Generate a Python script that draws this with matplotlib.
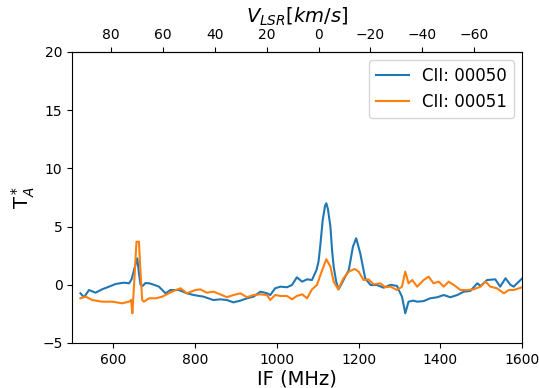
import matplotlib
matplotlib.use('Agg')
import matplotlib.pyplot as plt
import numpy as np

# spectra (IF in MHz, T_A* in K)
if_50 = [520, 529, 541, 557, 573, 590, 606, 626, 639, 645, 652, 659, 663, 667, 672, 679, 688,
         700, 712, 728, 740, 761, 780, 797, 821, 845, 862, 878, 894, 911, 927, 943, 960, 976,
         984, 996, 1009, 1025, 1037, 1049, 1062, 1074, 1086, 1097, 1102, 1106, 1112, 1118, 1121,
         1125, 1131, 1135, 1139, 1145, 1151, 1157, 1163, 1176, 1186, 1194, 1204, 1216, 1229,
         1245, 1261, 1278, 1294, 1298, 1306, 1314, 1322, 1334, 1343, 1359, 1375, 1392, 1408,
         1424, 1441, 1457, 1473, 1490, 1498, 1514, 1534, 1546, 1559, 1571, 1579, 1600]
t_50 = [-0.73, -1.07, -0.45, -0.68, -0.39, -0.16, 0.07, 0.18, 0.13, 0.47, 1.4, 2.28, 1.0, 0.0,
        -0.1, 0.15, 0.13, 0.0, -0.16, -0.73, -0.45, -0.45, -0.73, -0.88, -1.02, -1.31, -1.25,
        -1.31, -1.51, -1.36, -1.16, -1.02, -0.59, -0.73, -0.88, -0.3, -0.16, -0.21, -0.02, 0.64,
        0.27, 0.47, 0.41, 1.27, 2.0, 3.27, 5.5, 6.8, 7.0, 6.5, 5.0, 3.0, 1.56, 0.3, -0.39, 0.0,
        0.41, 1.27, 3.27, 4.0, 2.7, 0.56, -0.02, -0.02, -0.25, 0.0, -0.1, -0.45, -1.02, -2.45,
        -1.45, -1.36, -1.45, -1.4, -1.16, -1.07, -0.88, -1.07, -0.88, -0.59, -0.53, 0.13, -0.1,
        0.41, 0.47, -0.16, 0.56, 0.0, -0.16, 0.56]

if_51 = [520, 533, 549, 573, 598, 622, 639, 644, 647, 652, 657, 663, 667, 671, 675, 688, 704,
         720, 736, 753, 765, 780, 801, 813, 829, 845, 862, 878, 894, 911, 927, 943, 960, 976,
         984, 996, 1009, 1025, 1037, 1049, 1062, 1074, 1086, 1098, 1111, 1121, 1131, 1139, 1150,
         1163, 1176, 1190, 1200, 1212, 1224, 1237, 1253, 1265, 1278, 1294, 1306, 1314, 1322,
         1331, 1343, 1359, 1371, 1383, 1396, 1408, 1420, 1432, 1449, 1465, 1481, 1498, 1510,
         1522, 1538, 1555, 1567, 1579, 1600]
t_51 = [-1.16, -1.02, -1.31, -1.45, -1.45, -1.59, -1.45, -1.3, -2.45, 0.5, 3.7, 3.7, 1.0, -1.3,
        -1.45, -1.16, -1.16, -1.02, -0.73, -0.45, -0.3, -0.73, -0.45, -0.39, -0.68, -0.59,
        -0.82, -1.07, -0.88, -0.73, -1.07, -0.88, -0.82, -0.88, -1.31, -0.88, -0.96, -0.96,
        -1.25, -0.96, -0.82, -1.16, -0.39, -0.02, 1.27, 2.2, 1.56, 0.27, -0.39, 0.56, 1.13, 1.36,
        1.13, 0.41, 0.47, 0.04, 0.13, -0.21, -0.16, -0.45, -0.16, 1.13, 0.13, 0.41, -0.16, 0.41,
        0.7, 0.13, 0.27, -0.16, 0.27, 0.0, -0.45, -0.45, -0.39, -0.16, 0.27, -0.16, -0.3, -0.73,
        -0.45, -0.45, -0.21]

labels = ['CII: 00050', 'CII: 00051']
vel_ticks = [80, 60, 40, 20, 0, -20, -40, -60]

# IF <-> V_LSR
IF0 = 1102.0
MHZ_PER_KMS = 6.34


def if2v(f):
    return (IF0 - np.asarray(f, dtype=float)) / MHZ_PER_KMS


def v2if(v):
    return IF0 - np.asarray(v, dtype=float) * MHZ_PER_KMS


fig = plt.figure(figsize=(5.39, 3.88), dpi=100)
ax = fig.add_axes([0.134, 0.116, 0.835, 0.75])

ax.plot(if_50, t_50, color='#1f77b4', lw=1.5, label=labels[0])
ax.plot(if_51, t_51, color='#ff7f0e', lw=1.5, label=labels[1])

ax.set_xlim(500, 1600)
ax.set_ylim(-5, 20)
ax.set_yticks([-5, 0, 5, 10, 15, 20])
ax.set_xlabel('IF (MHz)', fontsize=14, labelpad=2)
ax.set_ylabel('T$_A^*$', fontsize=14)
ax.legend(loc='upper right', fontsize=12)

top = ax.secondary_xaxis('top', functions=(if2v, v2if))
top.set_xticks(vel_ticks)
top.set_xlabel('$V_{LSR} [km/s]$', fontsize=14)

fig.savefig('out.png', dpi=100)
